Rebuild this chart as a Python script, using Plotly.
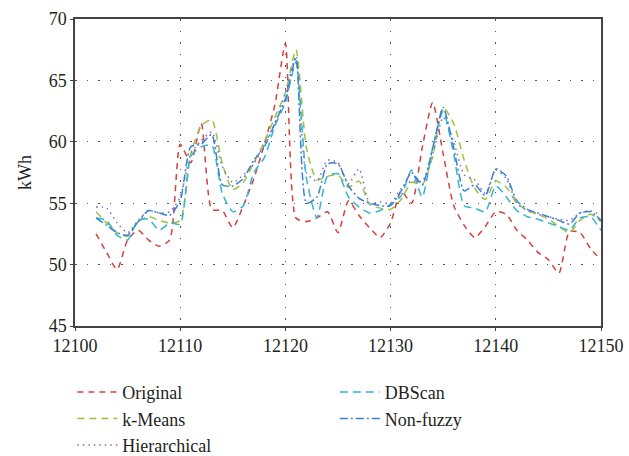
import plotly.graph_objects as go

x_vals = list(range(12102, 12151))

original = [52.5, 51.0, 49.6, 52.0, 52.8, 52.0, 51.5, 52.0, 59.8, 58.3,
            61.5, 54.5, 54.4, 53.0, 54.8, 57.0, 59.8, 63.0, 68.0, 53.8,
            53.5, 53.8, 54.3, 52.6, 55.2, 54.0, 53.0, 52.2, 53.4, 56.0,
            55.0, 59.5, 63.2, 59.0, 54.8, 53.2, 52.2, 53.1, 54.3, 54.1,
            52.8, 52.0, 51.0, 50.4, 49.3, 52.7, 52.6, 51.3, 50.4]

kmeans = [54.3, 53.4, 52.6, 52.3, 53.5, 53.9, 53.6, 53.4, 53.6, 59.0,
          61.3, 61.8, 58.2, 56.1, 56.7, 58.3, 60.0, 62.0, 64.0, 67.5,
          59.5, 56.9, 57.2, 57.3, 56.3, 56.8, 54.9, 54.6, 54.5, 55.3,
          56.7, 56.5, 58.8, 62.8, 61.5, 58.5, 56.2, 55.3, 56.8, 56.3,
          55.0, 54.4, 54.1, 53.7, 53.1, 52.6, 53.6, 54.1, 53.5]

hierarchical = [54.7, 54.6, 53.4, 52.6, 53.6, 54.4, 54.2, 54.3, 55.5, 59.0,
                60.1, 60.8, 58.0, 56.7, 57.3, 58.2, 59.8, 61.5, 64.0, 67.0,
                57.5, 56.8, 58.5, 58.3, 56.6, 57.8, 55.0, 55.1, 55.0, 56.2,
                56.8, 56.8, 59.0, 62.0, 60.0, 57.3, 56.9, 55.8, 57.7, 57.0,
                55.0, 54.4, 54.1, 53.9, 53.7, 53.6, 54.2, 54.4, 54.0]

dbscan = [53.8, 53.6, 52.4, 52.0, 53.6, 53.7, 52.8, 53.4, 53.3, 58.8,
          59.6, 59.7, 55.8, 54.3, 54.8, 57.5, 58.7, 61.3, 63.2, 66.5,
          57.0, 53.8, 57.2, 57.4, 55.5, 54.7, 54.2, 54.4, 54.9, 55.6,
          57.7, 55.5, 59.5, 62.5, 59.0, 54.8, 54.6, 54.3, 56.4, 55.5,
          54.4, 53.9, 53.7, 53.4, 53.1, 52.8, 53.8, 53.9, 52.8]

nonfuzzy = [53.8, 53.2, 52.6, 52.4, 53.5, 54.4, 54.2, 54.0, 55.2, 59.6,
            59.8, 60.6, 56.5, 56.4, 57.0, 58.5, 59.6, 61.5, 63.5, 66.8,
            55.0, 55.5, 58.2, 58.2, 56.4, 55.4, 55.0, 54.8, 54.8, 56.0,
            57.5, 56.5, 59.5, 62.8, 59.5, 56.0, 56.5, 55.6, 57.8, 57.2,
            55.2, 54.5, 54.2, 53.9, 53.6, 53.3, 54.2, 54.3, 53.6]

series = [
    ("Original", original, "#d3413f", "6px,5px", "legend"),
    ("k-Means", kmeans, "#9cc23a", "7px,5px", "legend"),
    ("Hierarchical", hierarchical, "#7a6cc8", "1.5px,4px", "legend"),
    ("DBScan", dbscan, "#35b4d4", "8px,5px", "legend2"),
    ("Non-fuzzy", nonfuzzy, "#3a7fd0", "8px,3px,2px,3px", "legend2"),
]

fig = go.Figure()
for name, vals, color, dash, leg in series:
    fig.add_trace(go.Scatter(
        x=x_vals, y=vals, mode="lines", name=name, legend=leg,
        line=dict(color=color, width=1.5, dash=dash, shape="spline", smoothing=0.6),
    ))

font_family = "Liberation Serif, Times New Roman, serif"
leg_font = dict(family=font_family, size=18, color="#231f20")

fig.update_layout(
    width=629, height=456,
    margin=dict(l=75, r=28, t=19, b=130, autoexpand=False),
    paper_bgcolor="white", plot_bgcolor="white",
    font=dict(family=font_family, size=18, color="#231f20"),
    showlegend=True,
    legend=dict(
        orientation="v", x=-0.005, y=-0.156, xanchor="left", yanchor="top",
        font=leg_font, traceorder="normal", tracegroupgap=0, itemwidth=40,
        bgcolor="rgba(0,0,0,0)",
    ),
    legend2=dict(
        orientation="v", x=0.494, y=-0.156, xanchor="left", yanchor="top",
        font=leg_font, traceorder="normal", tracegroupgap=0, itemwidth=40,
        bgcolor="rgba(0,0,0,0)",
    ),
    xaxis=dict(
        range=[12100, 12150], dtick=10, tick0=12100, tickformat="d",
        showgrid=True, gridcolor="#555555", griddash="1.5px,10px", gridwidth=1,
        showline=True, linecolor="#444444", linewidth=1.5, mirror=True,
        ticks="outside", ticklen=3, tickcolor="#444444",
        zeroline=False, tickfont=dict(size=18),
    ),
    yaxis=dict(
        range=[45, 70], dtick=5, tick0=45,
        showgrid=True, gridcolor="#555555", griddash="1.5px,10px", gridwidth=1,
        showline=True, linecolor="#444444", linewidth=1.5, mirror=True,
        ticks="outside", ticklen=3, tickcolor="#444444",
        zeroline=False, tickfont=dict(size=18),
        title=dict(text="kWh", font=dict(size=18), standoff=12),
    ),
)

fig.write_html("out.html")
